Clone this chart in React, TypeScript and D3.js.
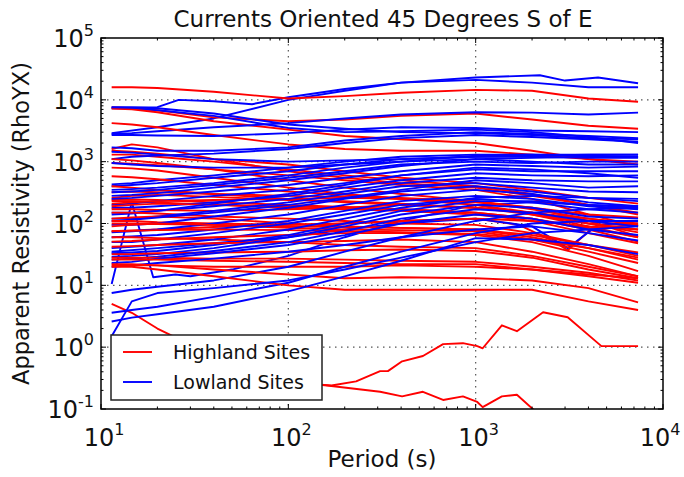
import React from "react";
import * as d3 from "d3";

// Common period grid (s)
const periods = [11.4, 14.6, 20, 40, 100, 200, 400, 1000, 2000, 4000, 7360];

// Highland sites (red) on the common grid
const highland: number[][] = [
  [16000, 16000, 15500, 13500, 10500, 11500, 13000, 14500, 14000, 10500, 9300],
  [7500, 7300, 6800, 5200, 4500, 4800, 5500, 6000, 4800, 3800, 3400],
  [7200, 7000, 6300, 4500, 3300, 2600, 2300, 2000, 1500, 1100, 900],
  [4200, 4000, 3600, 2700, 1900, 1600, 1500, 1500, 1300, 1100, 1000],
  [1600, 1900, 1700, 1100, 700, 550, 450, 380, 280, 200, 150],
  [1500, 1450, 1350, 1100, 900, 700, 550, 450, 350, 260, 210],
  [1300, 1300, 1200, 1000, 750, 600, 500, 400, 300, 200, 140],
  [1100, 1050, 950, 750, 500, 380, 300, 230, 170, 120, 95],
  [950, 930, 880, 750, 600, 500, 420, 350, 250, 140, 90],
  [800, 780, 720, 550, 380, 300, 250, 200, 150, 100, 72],
  [580, 560, 520, 420, 330, 290, 260, 230, 180, 110, 62],
  [400, 380, 350, 300, 250, 220, 200, 180, 150, 120, 100],
  [320, 330, 320, 300, 280, 270, 250, 220, 180, 140, 125],
  [260, 280, 290, 270, 240, 230, 210, 180, 140, 100, 80],
  [240, 245, 240, 220, 200, 185, 170, 150, 120, 85, 60],
  [230, 230, 220, 200, 180, 170, 160, 140, 110, 70, 48],
  [210, 220, 230, 240, 250, 260, 250, 200, 140, 90, 60],
  [190, 200, 210, 200, 190, 180, 170, 150, 120, 80, 51],
  [170, 170, 165, 160, 170, 180, 200, 180, 150, 110, 90],
  [150, 150, 145, 130, 120, 110, 100, 95, 70, 45, 34],
  [120, 125, 130, 120, 100, 90, 85, 80, 60, 40, 26],
  [110, 110, 105, 100, 95, 100, 110, 120, 110, 90, 80],
  [100, 100, 98, 95, 90, 88, 85, 80, 65, 45, 30],
  [90, 95, 100, 95, 85, 80, 78, 75, 55, 35, 23],
  [75, 76, 78, 80, 78, 75, 72, 68, 55, 40, 28],
  [60, 60, 58, 55, 50, 45, 42, 40, 30, 20, 14],
  [51, 52, 55, 60, 65, 70, 70, 65, 50, 30, 17],
  [42, 43, 45, 48, 50, 52, 55, 50, 35, 22, 14],
  [32, 32, 33, 34, 35, 37, 38, 36, 28, 18, 13],
  [28, 28, 28, 27, 27, 26, 25, 24, 20, 16, 12],
  [26, 26, 26, 25, 24, 23, 22, 22, 18, 15, 13],
  [21, 21, 21, 20, 20, 20, 21, 20, 18, 14, 11],
  [22, 22, 21, 18, 15, 13, 13.5, 13, 12, 9, 5.3],
  [20, 20, 18, 14, 10, 8.5, 8.5, 8.5, 8.5, 5.5, 4],
];

// Highland sites with their own period samples
const redVPeriods = [11.4, 20, 40, 100, 200, 400, 1000, 1700, 2500, 3100, 4200, 7360];
const redVValues = [75, 80, 88, 95, 100, 110, 120, 95, 55, 37, 85, 95];

const redLow1Periods = [11.4, 14.6, 20, 30, 50, 80, 120, 170, 230, 309, 340, 405, 523, 670, 855, 1020, 1090, 1380, 1660, 2290, 3100, 4690, 7360];
const redLow1Values = [5, 3.6, 2, 1.1, 0.6, 0.35, 0.26, 0.24, 0.28, 0.41, 0.41, 0.59, 0.72, 1.12, 1.16, 1.04, 0.96, 2.26, 1.81, 3.67, 3.05, 1.04, 1.04];

const redLow2Periods = [11.4, 20, 40, 80, 161, 309, 405, 523, 670, 855, 1020, 1090, 1380, 1660, 2300];
const redLow2Values = [0.5, 0.45, 0.38, 0.3, 0.24, 0.19, 0.16, 0.19, 0.14, 0.16, 0.13, 0.107, 0.16, 0.17, 0.07];

// Lowland sites (blue) on the common grid
const lowland: number[][] = [
  [7300, 7200, 6800, 5500, 3500, 3000, 3100, 3300, 3000, 2500, 2000],
  [2800, 2900, 3100, 3600, 4200, 5000, 5800, 6300, 6200, 5800, 6200],
  [2700, 2700, 2650, 2600, 2900, 3300, 3600, 3500, 3200, 3100, 3000],
  [7600, 7500, 7300, 6000, 4000, 3400, 3000, 2900, 2700, 2400, 2300],
  [1700, 1650, 1500, 1500, 1700, 2200, 2600, 3000, 2800, 2600, 2400],
  [1100, 1200, 1250, 1350, 1600, 2000, 2400, 2700, 2500, 2300, 2100],
  [1450, 1400, 1300, 1100, 1000, 1050, 1100, 1200, 1250, 1300, 1300],
  [950, 900, 850, 800, 800, 900, 1000, 1100, 1150, 1200, 1200],
  [430, 450, 500, 600, 800, 1000, 1200, 1300, 1300, 1300, 1300],
  [400, 420, 450, 550, 700, 900, 1100, 1200, 1200, 1150, 1150],
  [350, 360, 380, 450, 600, 800, 1000, 1250, 1300, 1250, 1200],
  [320, 330, 350, 420, 550, 700, 900, 1000, 950, 1000, 1000],
  [280, 290, 310, 380, 500, 650, 850, 1100, 1000, 900, 900],
  [250, 260, 280, 330, 420, 550, 700, 900, 850, 800, 830],
  [200, 210, 230, 280, 350, 450, 600, 750, 700, 700, 700],
  [180, 180, 190, 220, 280, 380, 500, 650, 600, 580, 600],
  [150, 150, 160, 190, 250, 330, 450, 550, 500, 480, 480],
  [140, 145, 160, 210, 300, 420, 600, 800, 750, 650, 550],
  [120, 120, 130, 160, 220, 300, 400, 450, 380, 330, 320],
  [110, 115, 125, 150, 200, 260, 350, 500, 450, 380, 400],
  [95, 95, 100, 130, 180, 250, 330, 400, 330, 260, 230],
  [72, 75, 80, 100, 140, 200, 280, 350, 300, 220, 190],
  [60, 62, 65, 80, 110, 160, 230, 280, 250, 190, 170],
  [50, 50, 55, 70, 100, 140, 200, 250, 220, 170, 150],
  [40, 42, 45, 55, 80, 120, 180, 260, 280, 260, 250],
  [33, 34, 36, 45, 65, 100, 160, 230, 230, 200, 180],
  [29, 30, 32, 40, 60, 90, 140, 200, 180, 130, 120],
  [26, 27, 29, 36, 50, 75, 120, 170, 150, 110, 90],
  [23, 24, 27, 33, 45, 65, 100, 140, 120, 80, 65],
  [20, 21, 23, 27, 35, 45, 60, 80, 90, 70, 53],
  [7.5, 8.5, 9.5, 12, 20, 35, 60, 110, 150, 170, 180],
  [3.6, 4, 4.5, 6.5, 11, 20, 35, 70, 100, 110, 110],
  [2.6, 3, 3.4, 4.5, 8, 14, 25, 58, 55, 45, 32],
  [1.5, 5.5, 7.5, 9, 12, 18, 28, 50, 70, 80, 90],
];

// Lowland sites with their own period samples
const blueTop1Periods = [11.4, 14.6, 20, 26, 40, 64, 100, 200, 400, 1000, 2000, 4000, 7360];
const blueTop1Values = [7500, 7500, 7600, 10000, 9500, 8500, 11000, 15000, 19000, 21000, 19000, 16000, 16000];

const blueTop2Periods = [11.4, 20, 40, 100, 200, 400, 1000, 2200, 3000, 4500, 7360];
const blueTop2Values = [2900, 3600, 5000, 10000, 14000, 19000, 23000, 25000, 20500, 23000, 18500];

const blueSpikePeriods = [11.4, 14.6, 19, 25, 30, 50, 100, 200, 400, 1000, 2000, 4000, 7360];
const blueSpikeValues = [10.5, 220, 13.5, 15, 14, 18, 30, 60, 110, 200, 220, 200, 190];

const blueVPeriods = [11.4, 20, 40, 100, 200, 400, 1000, 2000, 3100, 4500, 7360];
const blueVValues = [35, 40, 48, 60, 80, 100, 120, 90, 40, 95, 100];

const xTickExps = [1, 2, 3, 4];
const yTickExps = [-1, 0, 1, 2, 3, 4, 5];

const title = "Currents Oriented 45 Degrees S of E";
const xLabel = "Period (s)";
const yLabel = "Apparent Resistivity (RhoYX)";
const legendLabels = ["Highland Sites", "Lowland Sites"];

const RED = "#ff0000";
const BLUE = "#0000ff";

export default function App() {
  const W = 684, H = 477;
  const L = 101, R = 663, T = 38, B = 409;
  const x = d3.scaleLog().domain([10, 1e4]).range([L, R]);
  const y = d3.scaleLog().domain([0.1, 1e5]).range([B, T]);
  const line = d3
    .line<[number, number]>()
    .x((d) => x(d[0]))
    .y((d) => y(d[1]));

  const mk = (ps: number[], vs: number[]) => line(ps.map((p, i) => [p, vs[i]] as [number, number])) || "";

  const redPaths: string[] = [
    mk(redLow2Periods, redLow2Values),
    mk(redLow1Periods, redLow1Values),
    mk(redVPeriods, redVValues),
    ...highland.map((v) => mk(periods, v)),
  ];
  const bluePaths: string[] = [
    mk(blueTop1Periods, blueTop1Values),
    mk(blueTop2Periods, blueTop2Values),
    mk(blueSpikePeriods, blueSpikeValues),
    mk(blueVPeriods, blueVValues),
    ...lowland.map((v) => mk(periods, v)),
  ];

  const n = Math.max(redPaths.length, bluePaths.length);
  const ordered: { d: string; c: string }[] = [];
  for (let i = 0; i < n; i++) {
    if (i < redPaths.length) ordered.push({ d: redPaths[i], c: RED });
    if (i < bluePaths.length) ordered.push({ d: bluePaths[i], c: BLUE });
  }

  const xMinor: number[] = [];
  for (let e = 1; e < 4; e++) for (let k = 2; k <= 9; k++) xMinor.push(k * Math.pow(10, e));
  const yMinor: number[] = [];
  for (let e = -1; e < 5; e++) for (let k = 2; k <= 9; k++) yMinor.push(k * Math.pow(10, e));

  const font = "'DejaVu Sans', sans-serif";
  const MJ = 5, MN = 2.5;

  return (
    <svg width={W} height={H} style={{ display: "block", position: "absolute", left: 0, top: 0 }} fontFamily={font}>
      <rect x={0} y={0} width={W} height={H} fill="#fff" />
      <defs>
        <clipPath id="plotclip">
          <rect x={L} y={T} width={R - L} height={B - T} />
        </clipPath>
      </defs>
      {/* grid */}
      <g stroke="#555" strokeWidth={1.2} strokeDasharray="1.5,4.5">
        {xTickExps.slice(1, -1).map((e) => (
          <line key={"gx" + e} x1={x(10 ** e)} x2={x(10 ** e)} y1={T} y2={B} />
        ))}
        {yTickExps.slice(1, -1).map((e) => (
          <line key={"gy" + e} x1={L} x2={R} y1={y(10 ** e)} y2={y(10 ** e)} />
        ))}
      </g>
      {/* data */}
      <g clipPath="url(#plotclip)" fill="none" strokeWidth={1.9} strokeLinejoin="round">
        {ordered.map((p, i) => (
          <path key={i} d={p.d} stroke={p.c} />
        ))}
      </g>
      {/* ticks */}
      <g stroke="#000" strokeWidth={1}>
        {xTickExps.map((e) => (
          <g key={"tx" + e}>
            <line x1={x(10 ** e)} x2={x(10 ** e)} y1={B} y2={B - MJ} />
            <line x1={x(10 ** e)} x2={x(10 ** e)} y1={T} y2={T + MJ} />
          </g>
        ))}
        {xMinor.map((v) => (
          <g key={"mx" + v}>
            <line x1={x(v)} x2={x(v)} y1={B} y2={B - MN} />
            <line x1={x(v)} x2={x(v)} y1={T} y2={T + MN} />
          </g>
        ))}
        {yTickExps.map((e) => (
          <g key={"ty" + e}>
            <line x1={L} x2={L + MJ} y1={y(10 ** e)} y2={y(10 ** e)} />
            <line x1={R} x2={R - MJ} y1={y(10 ** e)} y2={y(10 ** e)} />
          </g>
        ))}
        {yMinor.map((v) => (
          <g key={"my" + v}>
            <line x1={L} x2={L + MN} y1={y(v)} y2={y(v)} />
            <line x1={R} x2={R - MN} y1={y(v)} y2={y(v)} />
          </g>
        ))}
      </g>
      <rect x={L} y={T} width={R - L} height={B - T} fill="none" stroke="#000" strokeWidth={1.5} />
      {/* tick labels */}
      <g fill="#111" fontSize={24}>
        {xTickExps.map((e) => (
          <text key={"lx" + e} x={x(10 ** e) + (e === 4 ? -3 : 3)} y={B + 37} textAnchor="middle">
            10<tspan dy={-11} fontSize={16}>{e}</tspan>
          </text>
        ))}
        {yTickExps.map((e) => (
          <text key={"ly" + e} x={L - 7} y={y(10 ** e) + 9} textAnchor="end">
            10<tspan dy={-11} fontSize={16}>{e < 0 ? "-" + Math.abs(e) : e}</tspan>
          </text>
        ))}
      </g>
      {/* titles */}
      <text x={383} y={27} textAnchor="middle" fontSize={23} fill="#111">
        {title}
      </text>
      <text x={382} y={467} textAnchor="middle" fontSize={23} fill="#111">
        {xLabel}
      </text>
      <text
        transform={`translate(29,${(T + B) / 2}) rotate(-90)`}
        textAnchor="middle"
        fontSize={22.5}
        fill="#111"
      >
        {yLabel}
      </text>
      {/* legend */}
      <g>
        <rect x={111} y={335} width={211} height={65} fill="#fff" stroke="#222" strokeWidth={1.5} />
        <line x1={123} x2={152} y1={352} y2={352} stroke={RED} strokeWidth={1.9} />
        <line x1={123} x2={152} y1={382} y2={382} stroke={BLUE} strokeWidth={1.9} />
        <text x={173} y={359} fontSize={19} fill="#111">{legendLabels[0]}</text>
        <text x={173} y={389} fontSize={19} fill="#111">{legendLabels[1]}</text>
      </g>
    </svg>
  );
}
